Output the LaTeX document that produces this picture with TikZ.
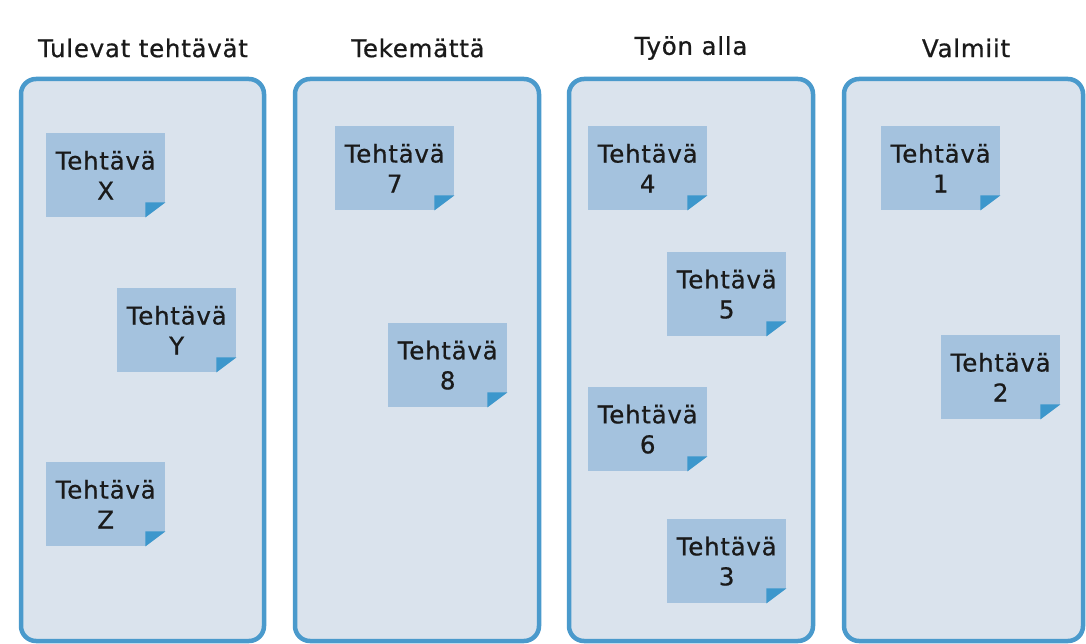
\documentclass[tikz,border=0pt]{standalone}
\usepackage{fontspec}
\setmainfont{DejaVu Sans}[LetterSpace=3, FakeBold=0.7]
\definecolor{boxfill}{RGB}{218,227,237}
\definecolor{boxline}{RGB}{74,154,204}
\definecolor{notefill}{RGB}{164,194,222}
\definecolor{fold}{RGB}{61,151,204}
\definecolor{ink}{RGB}{26,26,26}
\tikzset{
  column/.style={draw=boxline, fill=boxfill, line width=4.5pt, rounded corners=15pt},
  title/.style={text=ink, font=\fontsize{24.5}{28}\selectfont, anchor=center},
  note/.style={fill=notefill, minimum width=119pt, minimum height=84pt, inner sep=0pt,
    align=center, text=ink, font=\fontsize{24.5}{30}\selectfont, anchor=north west},
}
\newcommand{\tasknote}[4]{%
  \node[note] (#1) at (#2,#3) {Tehtävä\\#4};
  \fill[boxfill] (#1.south east) -- ([yshift=15pt]#1.south east) -- ([xshift=-20pt]#1.south east) -- cycle;
  \fill[fold] ([xshift=-20pt]#1.south east) -- ([xshift=-20pt,yshift=15pt]#1.south east) -- ([yshift=15pt]#1.south east) -- cycle;
}
\begin{document}
\begin{tikzpicture}[x=1pt,y=-1pt]
\useasboundingbox (0,0) rectangle (1086,644);
\fill[white] (0,0) rectangle (1086,644);
\draw[column] (21,79) rectangle (264,641);
\draw[column] (295,79) rectangle (539,641);
\draw[column] (569,79) rectangle (813,641);
\draw[column] (844,79) rectangle (1083,641);
\node[title] (t1) at (143,48) {Tulevat tehtävät};
\node[title] (t2) at (418,48) {Tekemättä};
\node[title] (t3) at (691,48) {Työn alla};
\node[title] (t4) at (966,48) {Valmiit};
\tasknote{nX}{46}{133}{X}
\tasknote{nY}{117}{288}{Y}
\tasknote{nZ}{46}{462}{Z}
\tasknote{n7}{335}{126}{7}
\tasknote{n8}{388}{323}{8}
\tasknote{n4}{588}{126}{4}
\tasknote{n5}{667}{252}{5}
\tasknote{n6}{588}{387}{6}
\tasknote{n3}{667}{519}{3}
\tasknote{n1}{881}{126}{1}
\tasknote{n2}{941}{335}{2}
\end{tikzpicture}
\end{document}
